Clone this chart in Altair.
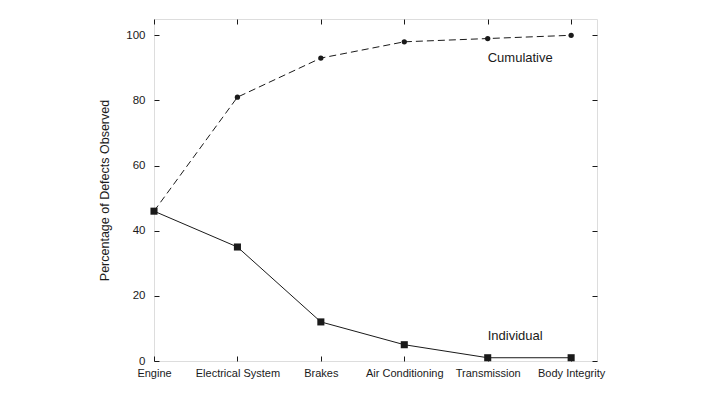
import altair as alt
import pandas as pd

categories = ["Engine", "Electrical System", "Brakes", "Air Conditioning", "Transmission", "Body Integrity"]
individual = [46, 35, 12, 5, 1, 1]
cumulative = [46, 81, 93, 98, 99, 100]
y_ticks = [0, 20, 40, 60, 80, 100]
annotations = ["Cumulative", "Individual"]
annot_x = [4, 4]
annot_y = [93, 7.7]

idx = list(range(len(categories)))
df = pd.DataFrame({"idx": idx, "category": categories,
                   "individual": individual, "cumulative": cumulative})
ann = pd.DataFrame({"idx": annot_x, "y": annot_y, "label": annotations})

W, H = 443, 342
FONT = "Liberation Sans"
INK = "#1a1a1a"
label_expr = "[" + ",".join("'" + c + "'" for c in categories) + "][datum.value]"

xs = alt.Scale(domain=[0, 5.31], nice=False, zero=False)
ys = alt.Scale(domain=[0, 105], nice=False)


def tick_axis(orient, offset, vals):
    return alt.Axis(orient=orient, offset=offset, values=vals, labels=False, grid=False,
                    domain=False, title=None, tickSize=5, tickColor=INK, tickWidth=1)


base = alt.Chart(df)

# cumulative dashed line + labelled axes
l_cum = base.mark_line(color=INK, strokeWidth=1, strokeDash=[7, 4]).encode(
    x=alt.X("idx:Q", scale=xs, axis=alt.Axis(
        orient="bottom", values=idx, labelExpr=label_expr, ticks=False, domain=False, grid=False,
        title=None, labelPadding=6, labelFlush=False, labelOverlap=False, labelFontSize=11,
        labelColor=INK, labelFont=FONT)),
    y=alt.Y("cumulative:Q", scale=ys, axis=alt.Axis(
        orient="left", values=y_ticks, ticks=False, domain=False, grid=False,
        labelPadding=9, labelFontSize=11.5, labelColor=INK, labelFont=FONT,
        title="Percentage of Defects Observed", titleFontSize=12.5, titleFontWeight="normal",
        titleColor=INK, titleFont=FONT, titlePadding=14)),
)

# individual solid line + inward ticks on top and left edges
l_ind = base.mark_line(color=INK, strokeWidth=1).encode(
    x=alt.X("idx:Q", scale=xs, axis=tick_axis("bottom", -H, idx)),
    y=alt.Y("individual:Q", scale=ys, axis=tick_axis("right", -W, y_ticks)),
)

# cumulative circles + inward ticks on bottom and right edges
p_cum = base.mark_circle(color=INK, size=28, opacity=1).encode(
    x=alt.X("idx:Q", scale=xs, axis=tick_axis("top", -H, idx)),
    y=alt.Y("cumulative:Q", scale=ys, axis=tick_axis("left", -W, y_ticks)),
)

# individual squares
p_ind = base.mark_square(color=INK, size=50, opacity=1).encode(
    x=alt.X("idx:Q", scale=xs, axis=None),
    y=alt.Y("individual:Q", scale=ys, axis=None),
)

txt = alt.Chart(ann).mark_text(align="left", baseline="middle", fontSize=13,
                               font=FONT, color=INK).encode(
    x=alt.X("idx:Q", scale=xs, axis=None),
    y=alt.Y("y:Q", scale=ys, axis=None),
    text="label:N",
)

chart = alt.layer(l_cum, l_ind, p_cum, p_ind, txt).resolve_axis(
    x="independent", y="independent"
).properties(
    width=W, height=H,
    autosize=alt.AutoSizeParams(type="none"),
    padding={"left": 146, "top": 11, "right": 100, "bottom": 20},
    background="white",
).configure_view(stroke=INK, strokeWidth=1).configure(font=FONT)

chart.save("out.html", embed_options={"renderer": "svg", "actions": False})
